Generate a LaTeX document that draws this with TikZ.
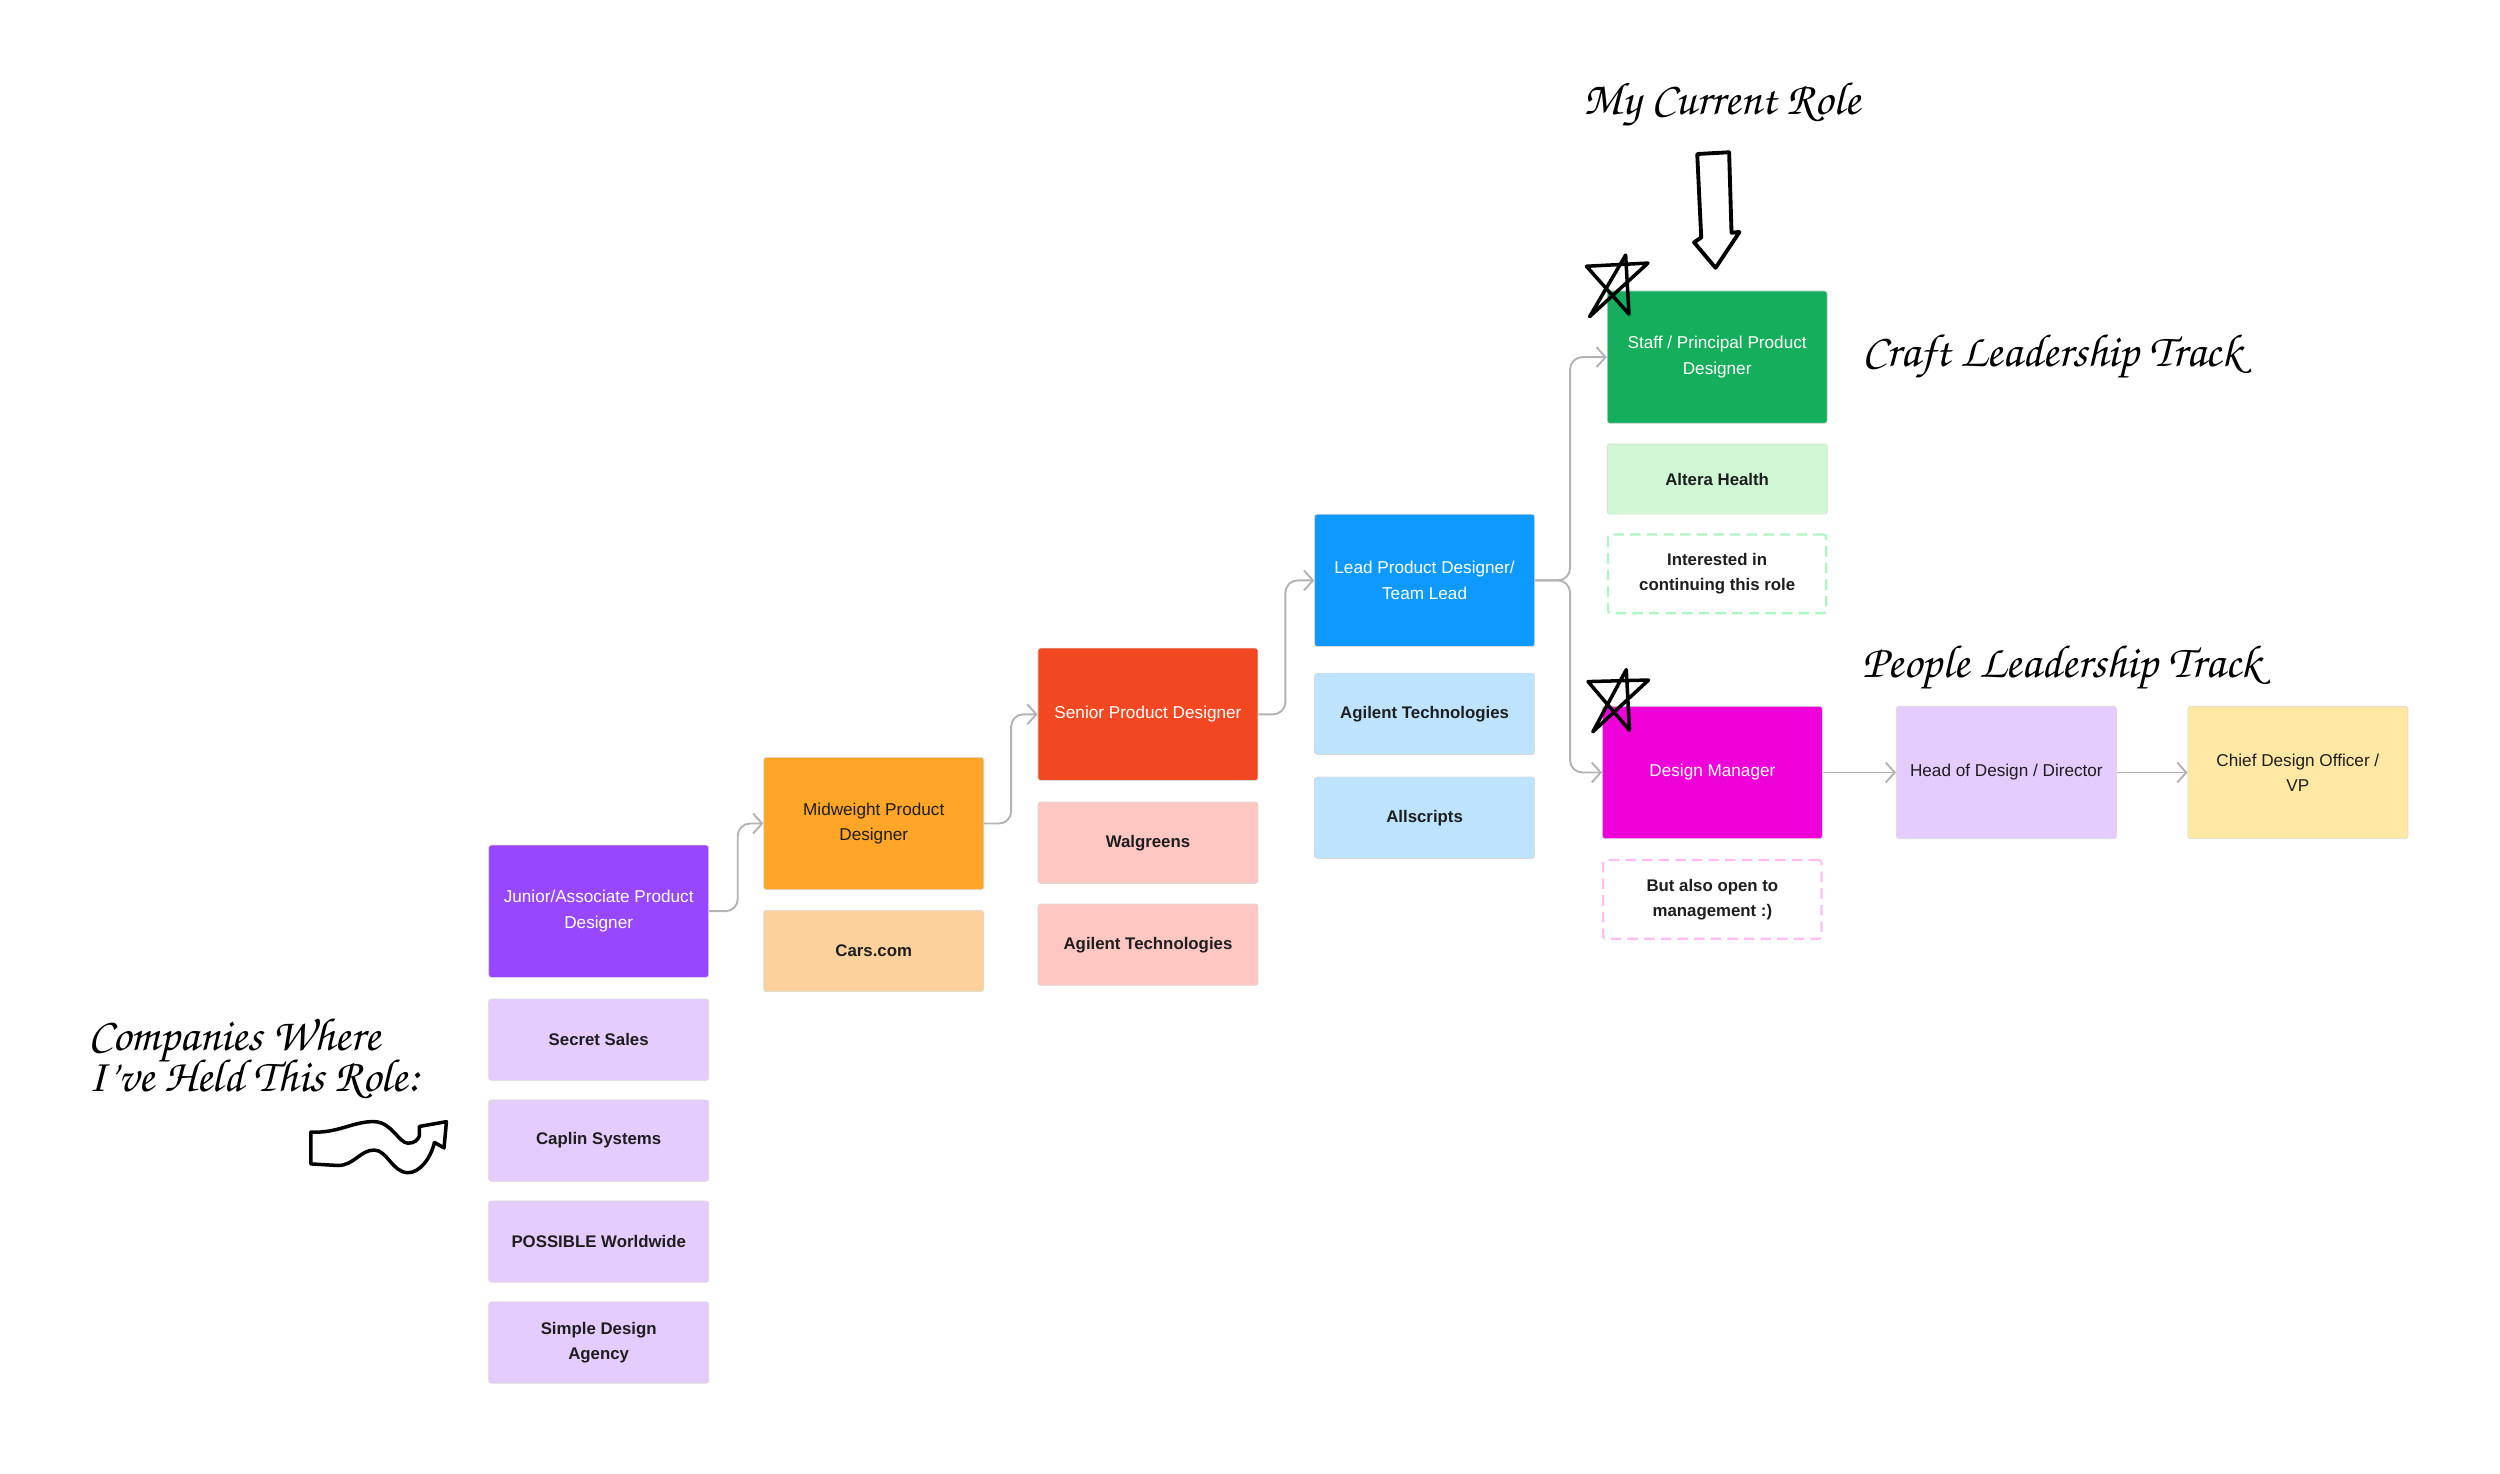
\documentclass[tikz,border=0pt]{standalone}
\usepackage[T1]{fontenc}
\usepackage{fontspec}
\setmainfont{Liberation Sans}
\usepackage{xcolor}
\usepackage{tikz}
\usetikzlibrary{arrows.meta,positioning}

\definecolor{ink}{HTML}{1E1E1E}
\definecolor{wire}{HTML}{B3B3B3}
\definecolor{jrfill}{HTML}{9747FF}
\definecolor{jrlite}{HTML}{E4CCFF}
\definecolor{mwfill}{HTML}{FFA629}
\definecolor{mwlite}{HTML}{FCD19C}
\definecolor{srfill}{HTML}{F24822}
\definecolor{srlite}{HTML}{FFC7C2}
\definecolor{ldfill}{HTML}{0D99FF}
\definecolor{ldlite}{HTML}{BDE3FF}
\definecolor{stfill}{HTML}{14AE5C}
\definecolor{stlite}{HTML}{CFF7D3}
\definecolor{stdash}{HTML}{AFF4C6}
\definecolor{dmfill}{HTML}{F000D8}
\definecolor{pinkdash}{HTML}{FFBDF2}
\definecolor{chieffill}{HTML}{FFE8A3}

\newcommand{\handfont}{\fontencoding{T1}\fontfamily{pzc}\fontseries{mb}\fontshape{it}\fontsize{26.5}{23.7}\selectfont\lineskiplimit=-30pt}

\begin{document}
\begin{tikzpicture}[x=0.032cm, y=-0.032cm,
      roleb/.style={rounded corners=1.5pt, draw=black!15, line width=0.4pt, minimum width=4.416cm,
                    minimum height=2.656cm, align=center, inner sep=2pt, font=\fontsize{9.8}{14.5}\selectfont},
      compb/.style={roleb, minimum height=1.632cm, text=ink, font=\fontsize{9.6}{14.5}\selectfont\bfseries},
      noteb/.style={compb, fill=white, draw=#1, line width=1.3pt, dash pattern=on 6pt off 3.5pt,
                    minimum width=4.38cm, minimum height=1.58cm},
      parr/.style={-{Straight Barb[length=1.8mm,width=4mm]}, draw=wire, line width=1.1pt, rounded corners=7pt},
      hand/.style={font=\handfont, inner sep=0pt, text=black},
      handline/.style={draw=black, line width=2.2pt, line join=round, line cap=round}]
    \useasboundingbox (0,0) rectangle (1568,924);

    % roles and where they were held
    \node[roleb, fill=jrfill, text=white] (junior) at (375.5,571.5) {Junior/Associate Product\\Designer};
    \node[compb, fill=jrlite, below=0.42cm of junior] (secret) {Secret Sales};
    \node[compb, fill=jrlite, below=0.38cm of secret] (caplin) {Caplin Systems};
    \node[compb, fill=jrlite, below=0.38cm of caplin] (possible) {POSSIBLE Worldwide};
    \node[compb, fill=jrlite, below=0.38cm of possible] (simple) {Simple Design\\Agency};

    \node[roleb, fill=mwfill, text=ink] (midw) at (548,516.5) {Midweight Product\\Designer};
    \node[compb, fill=mwlite, below=0.4cm of midw] (cars) {Cars.com};

    \node[roleb, fill=srfill, text=white] (senior) at (720,448) {Senior Product Designer};
    \node[compb, fill=srlite, below=0.42cm of senior] (walg) {Walgreens};
    \node[compb, fill=srlite, below=0.4cm of walg] (agsr) {Agilent Technologies};

    \node[roleb, fill=ldfill, text=white] (lead) at (893.5,364) {Lead Product Designer/\\Team Lead};
    \node[compb, fill=ldlite, below=0.52cm of lead] (agld) {Agilent Technologies};
    \node[compb, fill=ldlite, below=0.44cm of agld] (allscr) {Allscripts};

    \node[roleb, fill=stfill, text=white] (staff) at (1077,224) {Staff / Principal Product\\Designer};
    \node[compb, fill=stlite, minimum height=1.408cm, below=0.4cm of staff] (altera) {Altera Health};
    \node[noteb=stdash, below=0.38cm of altera] (keep) {Interested in\\continuing this role};

    \node[roleb, fill=dmfill, text=white] (dm) at (1074,484.5) {Design Manager};
    \node[noteb=pinkdash, below=0.4cm of dm] (mgmt) {But also open to\\management :)};
    \node[roleb, fill=jrlite, text=ink, right=1.47cm of dm] (head) {Head of Design / Director};
    \node[roleb, fill=chieffill, text=ink, right=1.42cm of head] (chief) {Chief Design Officer /\\VP};

    % career steps
    \draw[parr] (junior.east) -- ++(18,0) |- (midw.west);
    \draw[parr] (midw.east) -- ++(17,0) |- (senior.west);
    \draw[parr] (senior.east) -- ++(17,0) |- (lead.west);
    \draw[parr] (lead.east) -- ++(22,0) |- (staff.west);
    \draw[parr] (lead.east) -- ++(22,0) |- (dm.west);
    \draw[parr] (dm) -- (head);
    \draw[parr] (head) -- (chief);

    % handwritten notes
    \node[hand, anchor=west] (nowlbl) at (993,66) {My Current Role};
    \node[hand, anchor=west] (craftlbl) at (1168,224) {Craft Leadership Track};
    \node[hand, anchor=west] (peoplelbl) at (1168,419) {People Leadership Track};
    \node[hand, anchor=west, align=left] (complbl) at (55,664) {Companies Where\\I've Held This Role:};

    \draw[handline] (1064.5,96.6) -- (1084.5,95.5) -- (1086,146) -- (1091,145.5) -- (1076,168)
      -- (1062.5,152) -- (1067,149) -- cycle;
    \draw[handline, line width=2pt] (997,198.6) -- (1019.6,160) -- (1021.7,197) -- (995,167) -- (1033.6,165) -- cycle;
    \draw[handline, line width=2pt] (999,459) -- (1020,420) -- (1022,458) -- (996,427.5) -- (1034,426.5) -- cycle;
    \draw[handline, line width=2pt] (195,710) .. controls (212,711) and (222,703) .. (235,703.5)
      .. controls (246,704) and (250,717) .. (256,717) .. controls (260,717) and (262,715) .. (263,712.5)
      -- (263,706.5) -- (280,703.5) -- (278.5,720) -- (272.5,716.5)
      .. controls (270,727) and (263,735.5) .. (256,735.5) .. controls (246,735.5) and (243,721.3) .. (234.6,721.3)
      .. controls (226,721.3) and (222,731) .. (212,731) -- (195,730) -- cycle;
  \end{tikzpicture}
\end{document}
